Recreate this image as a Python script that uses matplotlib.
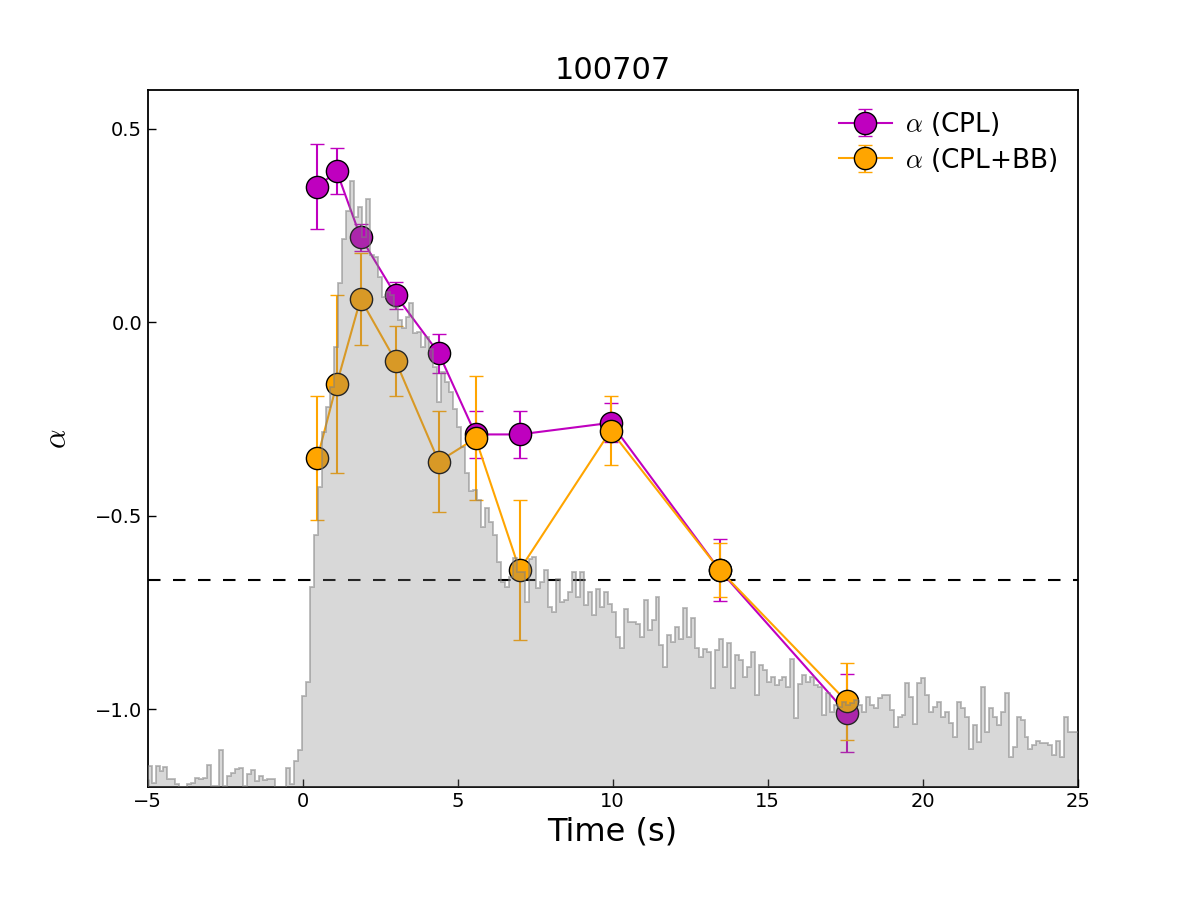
import numpy as np
import matplotlib
matplotlib.use('Agg')
import matplotlib.pyplot as plt

plt.rcParams['mathtext.fontset'] = 'cm'

# light curve (arbitrary units), 0.128 s bins starting at -5 s
lc_start = -5.0
lc_width = 0.128
lc_counts = [21, 4, 21, 16, 20, 8, 8, 3, 0, 0, 3, 4, 9, 8, 9, 22, 1, 1, 37, 1,
             11, 14, 18, 19, 1, 13, 17, 6, 11, 7, 8, 8, 0, 0, 0, 19, 3, 26, 37,
             91, 105, 200, 252, 300, 355, 380, 400, 440, 504, 548, 576, 606, 570, 580,
             550, 588, 532, 530, 510, 490, 495, 492, 480, 467,
             459, 470, 484, 454, 455, 440, 450, 438, 420, 385, 415, 405, 395, 378, 360,
             340, 314, 296, 297, 287, 260, 279, 265, 252, 225, 205, 200, 210,
             229, 215, 215, 185, 228, 230, 199, 205, 217, 180, 175, 208, 185, 187, 195,
             215, 190, 215, 182, 195, 172, 198, 180, 195, 183, 175, 150, 139, 178, 165,
             165, 163, 150, 187, 157, 167, 190, 142, 120, 152, 145, 160, 148, 179, 150,
             169, 139, 130, 138, 135, 99, 137, 148, 120, 144, 99, 132, 127, 110, 120,
             135, 92, 122, 117,
             105, 110, 102, 107, 110, 100, 128, 69, 103, 112, 105, 110, 102, 100, 72,
             94, 75, 82, 80, 85, 82, 84, 87, 82, 75, 90, 82, 79, 89,
             92, 92, 77, 60, 70, 72, 104, 90, 63, 104, 109, 92,
             75, 80, 85, 70, 75, 64, 50, 85, 79, 70, 38, 62, 45, 100, 55, 79, 70, 62, 75,
             94, 30, 40, 70, 67, 50, 38, 42, 46, 44, 44, 42, 32, 46, 30, 70, 55, 55, 55]

t_mid = [0.48, 1.1, 1.87, 3.0, 4.39, 5.58, 7.0, 9.94, 13.45, 17.55]
alpha_cpl = [0.35, 0.39, 0.22, 0.07, -0.08, -0.29, -0.29, -0.26, -0.64, -1.01]
alpha_cpl_err = [0.11, 0.06, 0.035, 0.035, 0.05, 0.06, 0.06, 0.05, 0.08, 0.10]
alpha_bb = [-0.35, -0.16, 0.06, -0.10, -0.36, -0.30, -0.64, -0.28, -0.64, -0.98]
alpha_bb_err = [0.16, 0.23, 0.12, 0.09, 0.13, 0.16, 0.18, 0.09, 0.07, 0.10]

fig = plt.figure(figsize=(12, 9), dpi=100)
ax = fig.add_axes([0.123, 0.126, 0.775, 0.774])

ax.axhline(-2.0 / 3.0, color='k', lw=1.5, linestyle=(0, (6, 6)))

ax.errorbar(t_mid, alpha_cpl, yerr=alpha_cpl_err, color='m', lw=1.5, marker='o',
            ms=16, mfc='m', mec='k', mew=1, capsize=5, capthick=1.5, elinewidth=1.5,
            label=r'$\alpha$ (CPL)')
ax.errorbar(t_mid, alpha_bb, yerr=alpha_bb_err, color='orange', lw=1.5, marker='o',
            ms=16, mfc='orange', mec='k', mew=1, capsize=5, capthick=1.5, elinewidth=1.5,
            label=r'$\alpha$ (CPL+BB)')

ax.set_xlim(-5, 25)
ax.set_ylim(-1.2, 0.6)
ax.set_yticks([-1.0, -0.5, 0.0, 0.5])
ax.set_xticks([-5, 0, 5, 10, 15, 20, 25])
ax.tick_params(direction='in', length=6, width=1, labelsize=14, pad=4)
for s in ax.spines.values():
    s.set_linewidth(1.3)
ax.set_xlabel('Time (s)', fontsize=23)
ax.set_ylabel(r'$\alpha$', fontsize=22, labelpad=16)
ax.set_title('100707', fontsize=22, pad=8)
ax.legend(loc='upper right', frameon=False, fontsize=19, numpoints=1,
          handlelength=2.0, borderaxespad=0.35, labelspacing=0.3, handletextpad=0.5)

# light curve on top of the alpha points
ax2 = ax.twinx()
edges = lc_start + lc_width * np.arange(len(lc_counts) + 1)
ax2.stairs(lc_counts, edges, fill=True, color='gray', alpha=0.3, lw=0)
ax2.stairs(lc_counts, edges, color='gray', alpha=0.55, lw=1.3)
ax2.set_ylim(0, 697)
ax2.set_xlim(-5, 25)
ax2.set_yticks([])
for s in ax2.spines.values():
    s.set_visible(False)

fig.savefig('out.png', dpi=100)
